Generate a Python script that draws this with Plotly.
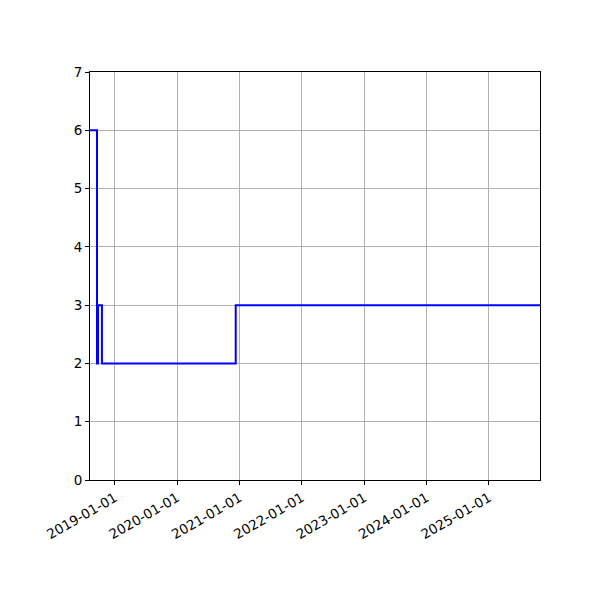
import plotly.graph_objects as go

dates = ['2018-08-08', '2018-09-18', '2018-09-24', '2018-10-17', '2020-12-09', '2025-10-27']
values = [6, 2, 3, 2, 3, 3]
year_ticks = ['2019-01-01', '2020-01-01', '2021-01-01', '2022-01-01',
              '2023-01-01', '2024-01-01', '2025-01-01']

fig = go.Figure()
fig.add_trace(go.Scatter(
    x=dates, y=values, mode='lines', line_shape='hv',
    line=dict(color='blue', width=2), showlegend=False,
))

axis_style = dict(
    showline=True, linecolor='black', linewidth=1, mirror=True,
    ticks='outside', ticklen=4, tickcolor='black',
    showgrid=True, gridcolor='#b0b0b0', gridwidth=1,
    zeroline=False,
    tickfont=dict(family='DejaVu Sans', size=13.5, color='black'),
)

fig.update_xaxes(
    range=['2018-08-08', '2025-10-27'],
    tickvals=year_ticks, ticktext=year_ticks, tickangle=-30,
    **axis_style,
)
fig.update_yaxes(range=[0, 7], dtick=1, tick0=0, **axis_style)

# page adds ~8px offset, so shift margins to land the plot area where the reference has it
fig.update_layout(
    width=600, height=600,
    margin=dict(l=82, r=68, t=64, b=128),
    plot_bgcolor='white', paper_bgcolor='white',
)

fig.write_html('out.html')
